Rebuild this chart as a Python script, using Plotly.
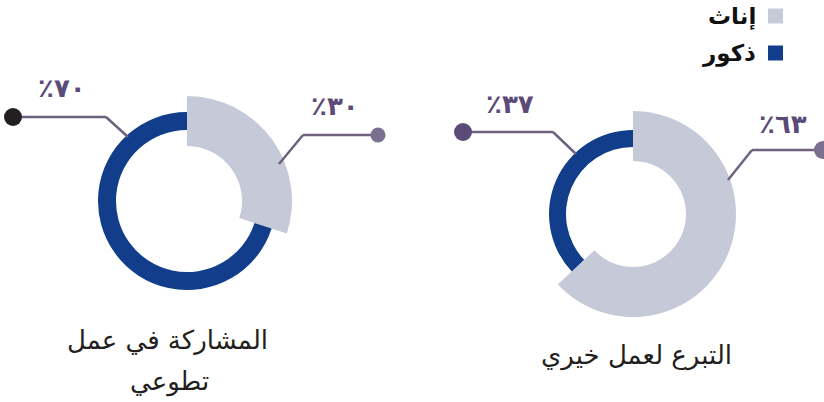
import plotly.graph_objects as go

W, H = 824, 402

# ---- data ----
categories = ["المشاركة في عمل تطوعي", "التبرع لعمل خيري"]
category_lines = [["المشاركة في عمل", "تطوعي"], ["التبرع لعمل خيري"]]
series_names = ["إناث", "ذكور"]
females = [30, 63]
males = [70, 37]
female_labels = ["٪٣٠", "٪٦٣"]
male_labels = ["٪٧٠", "٪٣٧"]

# ---- style ----
GREY = "#c6c9d8"
BLUE = "#113d8b"
PURPLE = "#5b4b78"
LINE = "#6e6280"
FONT = "DejaVu Sans"
R = 106  # px per radial-range
centers = [(187, 201), (633, 214)]
grey_base = [55, 53]
grey_thick = [50, 50]
blue_base = [71, 67]
blue_thick = [18, 17]


def px(x):
    return x / W


def py(y):
    return 1 - y / H


fig = go.Figure()
for i in range(2):
    f, m = females[i], males[i]
    sub = "polar" if i == 0 else "polar2"
    fig.add_trace(go.Barpolar(
        r=[grey_thick[i]], base=[grey_base[i]], theta=[f * 3.6 / 2], width=[f * 3.6],
        marker=dict(color=GREY, line=dict(width=0)), name=series_names[0],
        subplot=sub, hoverinfo="skip"))
    fig.add_trace(go.Barpolar(
        r=[blue_thick[i]], base=[blue_base[i]], theta=[(f + m / 2) * 3.6], width=[m * 3.6],
        marker=dict(color=BLUE, line=dict(width=0)), name=series_names[1],
        subplot=sub, hoverinfo="skip"))

polar_common = dict(
    bgcolor="rgba(0,0,0,0)",
    angularaxis=dict(rotation=90, direction="clockwise", visible=False, showgrid=False),
    radialaxis=dict(range=[0, R], visible=False, showgrid=False),
)
layouts = {}
for i, key in enumerate(["polar", "polar2"]):
    cx, cy = centers[i]
    layouts[key] = dict(
        domain=dict(x=[px(cx - R), px(cx + R)], y=[py(cy + R), py(cy - R)]),
        **polar_common)

shapes = []
annotations = []


def leader(points, dot, dot_r, dot_color):
    for (x0, y0), (x1, y1) in zip(points[:-1], points[1:]):
        shapes.append(dict(type="line", xref="paper", yref="paper",
                           x0=px(x0), y0=py(y0), x1=px(x1), y1=py(y1),
                           line=dict(color=LINE, width=2.5)))
    dx, dy = dot
    shapes.append(dict(type="circle", xref="paper", yref="paper",
                       x0=px(dx - dot_r), x1=px(dx + dot_r),
                       y0=py(dy + dot_r), y1=py(dy - dot_r),
                       fillcolor=dot_color, line=dict(width=0)))


leader([(13, 117), (106, 117), (128, 137)], (13, 117), 9, "#231f20")
leader([(279, 164), (303, 135), (378, 135)], (378, 135), 7.5, "#7b7090")
leader([(463, 132), (553, 132), (576, 154)], (463, 132), 9, PURPLE)
leader([(728, 180), (752, 150), (823, 150)], (823, 150), 9, "#7b7090")

pct_pos = [((62, 88), male_labels[0]), ((335, 106), female_labels[0]),
           ((510, 104), male_labels[1]), ((783, 124), female_labels[1])]
for (x, y), t in pct_pos:
    annotations.append(dict(x=px(x), y=py(y), xref="paper", yref="paper", text="<b>" + t + "</b>",
                            showarrow=False, xanchor="center", yanchor="middle",
                            font=dict(family=FONT, size=26, color=PURPLE)))

# category titles
annotations.append(dict(x=px(167), y=py(340), xref="paper", yref="paper", text=category_lines[0][0],
                        showarrow=False, xanchor="center", yanchor="middle",
                        font=dict(family=FONT, size=26, color="#231f20")))
annotations.append(dict(x=px(169), y=py(381), xref="paper", yref="paper", text=category_lines[0][1],
                        showarrow=False, xanchor="center", yanchor="middle",
                        font=dict(family=FONT, size=26, color="#231f20")))
annotations.append(dict(x=px(636), y=py(355), xref="paper", yref="paper", text=category_lines[1][0],
                        showarrow=False, xanchor="center", yanchor="middle",
                        font=dict(family=FONT, size=26, color="#231f20")))

# legend
leg_y = [16, 53]
leg_col = [GREY, BLUE]
for i in range(2):
    y = leg_y[i]
    shapes.append(dict(type="rect", xref="paper", yref="paper",
                       x0=px(768), x1=px(783), y0=py(y + 7.5), y1=py(y - 7.5),
                       fillcolor=leg_col[i], line=dict(width=0)))
    annotations.append(dict(x=px(758), y=py(y), xref="paper", yref="paper",
                            text="<b>" + series_names[i] + "</b>", showarrow=False,
                            xanchor="right", yanchor="middle",
                            font=dict(family=FONT, size=23, color="#111111")))

fig.update_layout(
    width=W, height=H, margin=dict(l=0, r=0, t=0, b=0),
    paper_bgcolor="white", plot_bgcolor="white", showlegend=False,
    shapes=shapes, annotations=annotations, **layouts)

fig.write_html("out.html", config={"displayModeBar": False},
               post_script="document.body.style.margin='0';")
